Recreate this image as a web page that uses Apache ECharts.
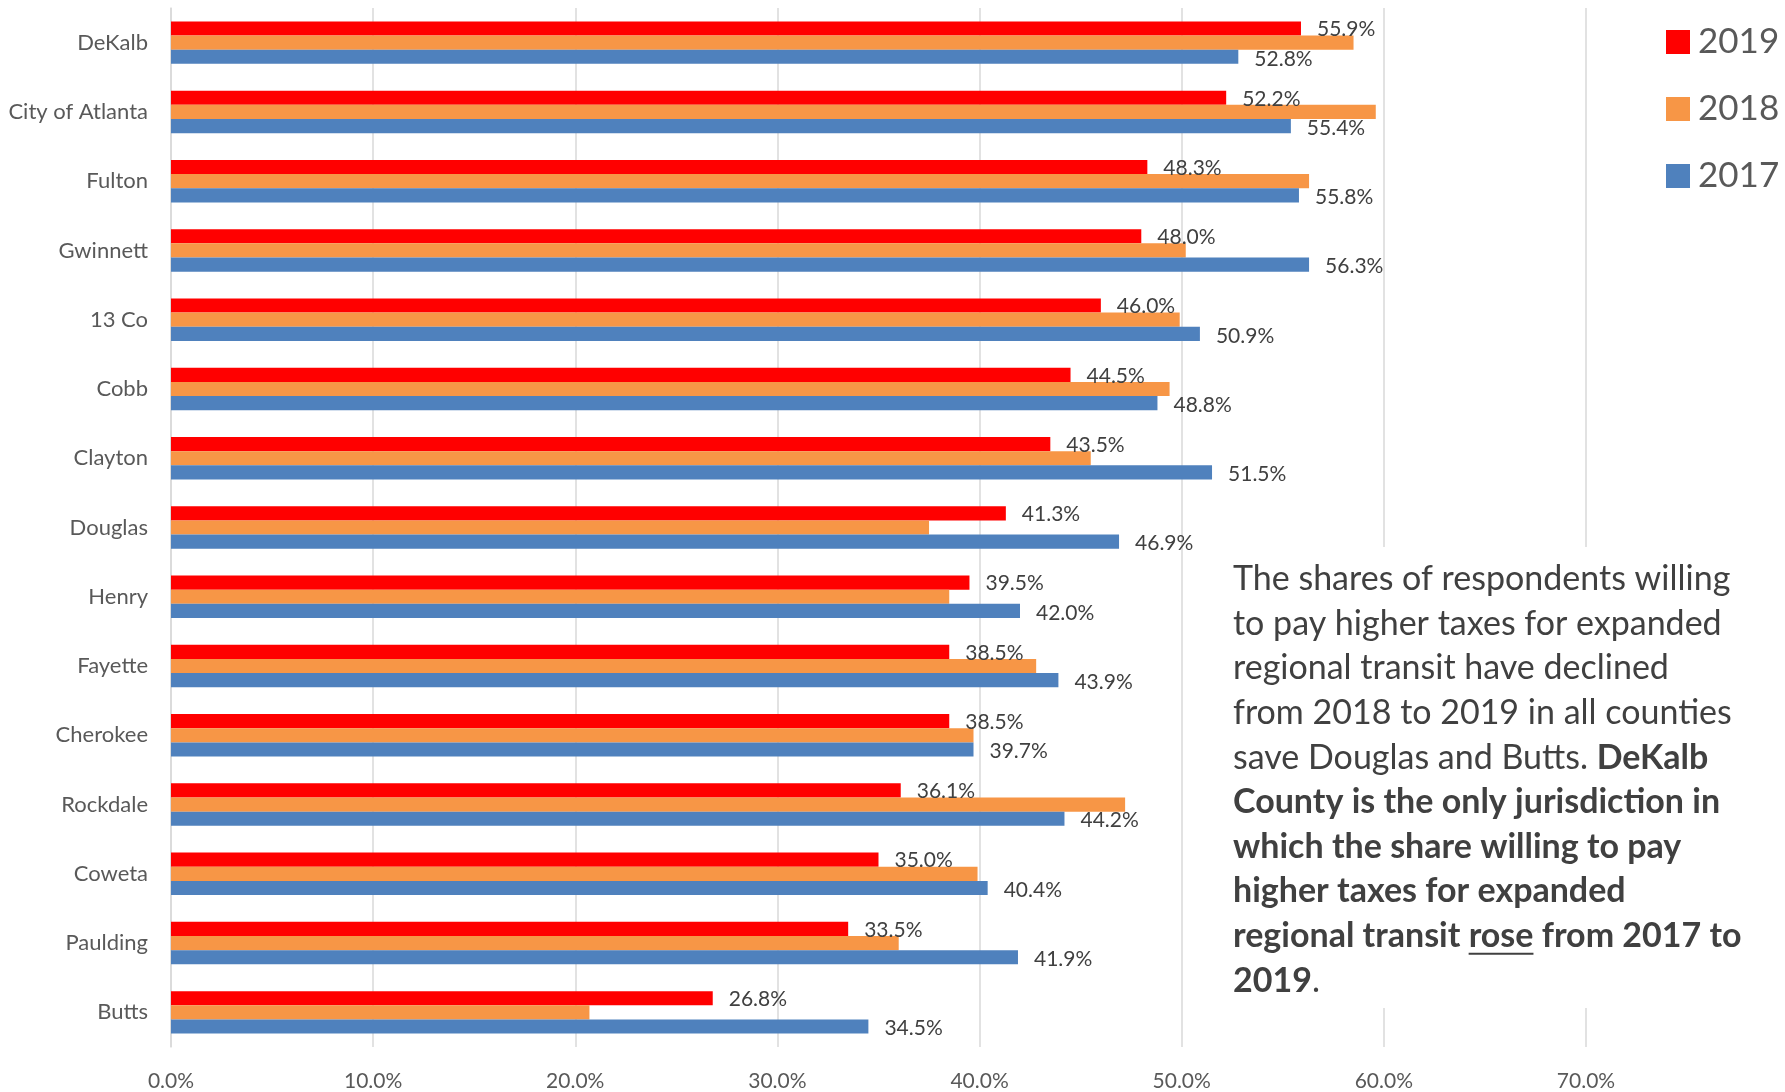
<!DOCTYPE html>
<html>
<head>
<meta charset="utf-8">
<script src="https://cdn.jsdelivr.net/npm/echarts@6/dist/echarts.min.js"></script>
<style>
html,body{margin:0;padding:0;background:#fff;}
#chart{width:1785px;height:1092px;}
</style>
</head>
<body>
<div id="chart"></div>
<script>
const categories = ["DeKalb","City of Atlanta","Fulton","Gwinnett","13 Co","Cobb","Clayton","Douglas","Henry","Fayette","Cherokee","Rockdale","Coweta","Paulding","Butts"];
const seriesNames = ["2019","2018","2017"];
const values2019 = [55.9,52.2,48.3,48.0,46.0,44.5,43.5,41.3,39.5,38.5,38.5,36.1,35.0,33.5,26.8];
const values2018 = [58.5,59.6,56.3,50.2,49.9,49.4,45.5,37.5,38.5,42.8,39.7,47.2,39.9,36.0,20.7];
const values2017 = [52.8,55.4,55.8,56.3,50.9,48.8,51.5,46.9,42.0,43.9,39.7,44.2,40.4,41.9,34.5];
const tickMax = 70;
const tickStep = 10;
const noteLines = [
  [["n","The shares of respondents willing"]],
  [["n","to pay higher taxes for expanded"]],
  [["n","regional transit have declined"]],
  [["n","from 2018 to 2019 in all counties"]],
  [["n","save Douglas and Butts. "],["b","DeKalb"]],
  [["b","County is the only jurisdiction in"]],
  [["b","which the share willing to pay"]],
  [["b","higher taxes for expanded"]],
  [["b","regional transit "],["b","rose"],["b"," from 2017 to"]],
  [["b","2019"],["n","."]]
];

const FONT = 'Lato';
const colors = ['#FF0000','#F79646','#4F81BD'];
const chart = echarts.init(document.getElementById('chart'), null, {renderer:'canvas'});

const NOTE_X = 1233, NOTE_Y = 557, NOTE_FS = 34, NOTE_LH = 44.6;
const noteText = noteLines.map(line => line.map(([s,t]) => '{' + s + '|' + t + '}').join('')).join('\n');

// measure underline position for "rose"
const cv = document.createElement('canvas').getContext('2d');
cv.font = 'bold ' + NOTE_FS + 'px ' + FONT;
const preW = cv.measureText('regional transit ').width;
const roseW = cv.measureText('rose').width;
const ulY = NOTE_Y + 8 * NOTE_LH + 39;

function lbl(dy){
  return {show:true, position:'right', distance:16, offset:[0,dy], color:'#404040', fontFamily:FONT, fontSize:21,
    formatter: p => p.value.toFixed(1) + '%'};
}

const option = {
  animation:false,
  color: colors,
  grid:{left:171, right:199, top:8, bottom:42, containLabel:false},
  legend:{
    orient:'vertical', left:1661, top:17,
    itemWidth:24, itemHeight:24, itemGap:27,
    icon:'rect',
    textStyle:{color:'#595959', fontFamily:FONT, fontSize:35, lineHeight:40, padding:[0,0,0,3]},
    data: seriesNames
  },
  xAxis:{
    type:'value', min:0, max:tickMax, interval:tickStep,
    axisLine:{show:false}, axisTick:{show:false},
    splitLine:{show:true, lineStyle:{color:'#D9D9D9', width:1.5}},
    axisLabel:{color:'#595959', fontFamily:FONT, fontSize:21, margin:24,
      formatter: v => v.toFixed(1) + '%'}
  },
  yAxis:{
    type:'category', data:categories, inverse:true,
    axisLine:{show:true, lineStyle:{color:'#D9D9D9', width:1.5}},
    axisTick:{show:false},
    axisLabel:{color:'#595959', fontFamily:FONT, fontSize:22, margin:23}
  },
  series:[
    {name:seriesNames[0], type:'bar', data:values2019, barGap:'0%', barCategoryGap:'38.7%', label:lbl(1)},
    {name:seriesNames[1], type:'bar', data:values2018, barGap:'0%', barCategoryGap:'38.7%'},
    {name:seriesNames[2], type:'bar', data:values2017, barGap:'0%', barCategoryGap:'38.7%', label:lbl(2)}
  ],
  graphic:[
    {type:'rect', left:1222, top:547, shape:{width:563, height:461}, style:{fill:'#fff'}, z:100},
    {type:'text', left:NOTE_X, top:NOTE_Y, z:101,
      style:{text:noteText, fill:'#404040', font: NOTE_FS + 'px ' + FONT, lineHeight:NOTE_LH,
        rich:{
          n:{fontFamily:FONT, fontSize:NOTE_FS, fontWeight:'normal', lineHeight:NOTE_LH, fill:'#404040', color:'#404040'},
          b:{fontFamily:FONT, fontSize:NOTE_FS, fontWeight:'bold', lineHeight:NOTE_LH, fill:'#404040', color:'#404040'}
        }}},
    {type:'rect', z:102, shape:{x:NOTE_X + preW, y:ulY, width:roseW, height:2}, style:{fill:'#404040'}}
  ]
};
chart.setOption(option);
</script>
</body>
</html>
